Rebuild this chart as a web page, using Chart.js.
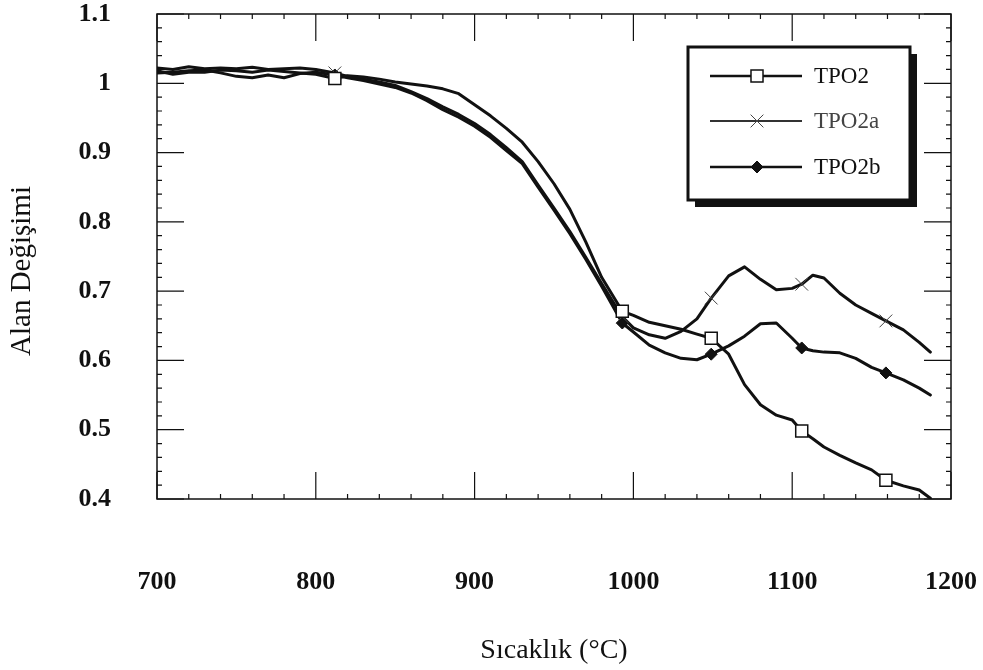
<!DOCTYPE html>
<html>
<head>
<meta charset="utf-8">
<script src="https://cdn.jsdelivr.net/npm/chart.js@4.4.0/dist/chart.umd.min.js"></script>
<style>
    html, body { margin: 0; padding: 0; background: #fff; }
</style>
</head>
<body>
<canvas id="chart-lines" width="983" height="670"></canvas>
<script>
// temperatures (°C) shared by the three curves
var temps = [700, 710, 720, 730, 740, 750, 760, 770, 780, 790, 800, 812, 820, 830, 840, 850,
    860, 870, 880, 890, 900, 910, 920, 930, 940, 950, 960, 970, 980, 993, 1000, 1010, 1020,
    1030, 1040, 1049, 1060, 1070, 1080, 1090, 1100, 1106, 1113, 1120, 1130, 1140, 1150, 1159,
    1170, 1180, 1187];

var tpo2 = [1.018, 1.013, 1.016, 1.016, 1.019, 1.018, 1.016, 1.019, 1.017, 1.015, 1.013, 1.007,
    1.011, 1.009, 1.006, 1.002, 0.999, 0.996, 0.992, 0.985, 0.969, 0.953, 0.935, 0.915, 0.887,
    0.855, 0.818, 0.771, 0.720, 0.671, 0.665, 0.655, 0.650, 0.645, 0.638, 0.632, 0.609, 0.565,
    0.536, 0.521, 0.514, 0.498, 0.487, 0.475, 0.463, 0.452, 0.442, 0.427, 0.419, 0.413, 0.401];

var tpo2a = [1.022, 1.020, 1.024, 1.021, 1.022, 1.021, 1.023, 1.020, 1.021, 1.022, 1.020, 1.015,
    1.010, 1.006, 1.002, 0.997, 0.988, 0.978, 0.966, 0.955, 0.942, 0.926, 0.907, 0.887, 0.853,
    0.820, 0.786, 0.749, 0.711, 0.663, 0.647, 0.637, 0.632, 0.642, 0.660, 0.690, 0.722, 0.735,
    0.717, 0.702, 0.704, 0.710, 0.723, 0.719, 0.697, 0.680, 0.668, 0.657, 0.644, 0.626, 0.612];

var tpo2b = [1.015, 1.016, 1.018, 1.019, 1.015, 1.010, 1.008, 1.012, 1.008, 1.014, 1.016, 1.012,
    1.008, 1.004, 0.999, 0.994, 0.986, 0.975, 0.962, 0.951, 0.938, 0.922, 0.903, 0.884, 0.850,
    0.817, 0.783, 0.746, 0.707, 0.654, 0.641, 0.622, 0.611, 0.603, 0.601, 0.609, 0.621, 0.635,
    0.653, 0.654, 0.632, 0.618, 0.614, 0.612, 0.611, 0.603, 0.590, 0.582, 0.572, 0.560, 0.550];

// temperatures where the symbols sit
var markerTemps = [812, 993, 1049, 1106, 1159];

var seriesNames = ['TPO2', 'TPO2a', 'TPO2b'];
var xTickValues = [700, 800, 900, 1000, 1100, 1200];
var xTickLabels = ['700', '800', '900', '1000', '1100', '1200'];
var yTickValues = [0.4, 0.5, 0.6, 0.7, 0.8, 0.9, 1.0, 1.1];
var yTickLabels = ['0.4', '0.5', '0.6', '0.7', '0.8', '0.9', '1', '1.1'];

var serif = '"Liberation Serif", "Times New Roman", serif';
var ink = '#111';

function points(values) {
    var out = [];
    for (var i in temps) {
        out.push({ x: temps[i], y: values[i] });
    }
    return out;
}

function markerSize(r) {
    return function (ctx) {
        return markerTemps.indexOf(temps[ctx.dataIndex]) >= 0 ? r : 0;
    };
}

// keep the plot box where the reference has it: no extra label padding
function fixBox(size) {
    return function (scale) {
        if (scale.isHorizontal()) scale.height = size; else scale.width = size;
        scale.paddingTop = 0;
        scale.paddingBottom = 0;
        scale.paddingLeft = 0;
        scale.paddingRight = 0;
    };
}

var datasets = [
    {
        label: seriesNames[0],
        data: points(tpo2),
        borderColor: ink,
        borderWidth: 3,
        pointStyle: 'rect',
        pointRadius: markerSize(8.5),
        pointBackgroundColor: '#fff',
        pointBorderColor: ink,
        pointBorderWidth: 1.5,
        legendLine: 2.5
    },
    {
        label: seriesNames[1],
        data: points(tpo2a),
        borderColor: ink,
        borderWidth: 3,
        pointStyle: 'crossRot',
        pointRadius: markerSize(9),
        pointBackgroundColor: ink,
        pointBorderColor: '#444',
        pointBorderWidth: 1,
        legendLine: 1.8
    },
    {
        label: seriesNames[2],
        data: points(tpo2b),
        borderColor: ink,
        borderWidth: 3,
        pointStyle: 'rectRot',
        pointRadius: markerSize(6),
        pointBackgroundColor: ink,
        pointBorderColor: ink,
        pointBorderWidth: 1,
        legendLine: 2.5
    }
];

// frame with inward major/minor ticks on all four sides, y title and boxed legend
var frameTicks = {
    id: 'frameTicks',
    afterDatasetsDraw: function (chart) {
        var ctx = chart.ctx, a = chart.chartArea;
        var xs = chart.scales.x, ys = chart.scales.y;
        ctx.save();
        ctx.strokeStyle = ink;
        ctx.lineWidth = 1.5;
        ctx.strokeRect(a.left, a.top, a.right - a.left, a.bottom - a.top);
        ctx.lineWidth = 1.2;
        ctx.beginPath();
        for (var t = 700; t <= 1200; t += 20) {
            var px = xs.getPixelForValue(t);
            var len = (t % 100 === 0) ? 27 : 5;
            ctx.moveTo(px, a.bottom); ctx.lineTo(px, a.bottom - len);
            ctx.moveTo(px, a.top); ctx.lineTo(px, a.top + len);
        }
        for (var k = 0; k <= 35; k++) {
            var v = 0.4 + k * 0.02;
            var py = ys.getPixelForValue(v);
            var l2 = (k % 5 === 0) ? 27 : 5;
            ctx.moveTo(a.left, py); ctx.lineTo(a.left + l2, py);
            ctx.moveTo(a.right, py); ctx.lineTo(a.right - l2, py);
        }
        ctx.stroke();
        ctx.restore();
    },
    afterDraw: function (chart) {
        var ctx = chart.ctx;
        ctx.save();
        ctx.translate(22, 271);
        ctx.rotate(-Math.PI / 2);
        ctx.fillStyle = ink;
        ctx.font = '29px ' + serif;
        ctx.textAlign = 'center';
        ctx.textBaseline = 'middle';
        ctx.fillText('Alan Değişimi', 0, 0);
        ctx.restore();

        var bx = 688, by = 47, bw = 222, bh = 153;
        ctx.save();
        ctx.fillStyle = ink;
        ctx.fillRect(bx + 7, by + 7, bw, bh);
        ctx.fillStyle = '#fff';
        ctx.fillRect(bx, by, bw, bh);
        ctx.strokeStyle = ink;
        ctx.lineWidth = 3;
        ctx.strokeRect(bx, by, bw, bh);
        var rows = [76, 121, 167];
        chart.data.datasets.forEach(function (ds, i) {
            var y = rows[i];
            ctx.strokeStyle = i === 1 ? '#333' : ink;
            ctx.lineWidth = ds.legendLine;
            ctx.beginPath();
            ctx.moveTo(710, y); ctx.lineTo(802, y);
            ctx.stroke();
            ctx.fillStyle = ds.pointBackgroundColor;
            ctx.strokeStyle = ds.pointBorderColor;
            ctx.lineWidth = ds.pointBorderWidth;
            var r = ds.pointRadius({ dataIndex: temps.indexOf(markerTemps[0]) });
            Chart.helpers.drawPoint(ctx, { pointStyle: ds.pointStyle, radius: r, rotation: 0, borderWidth: ds.pointBorderWidth }, 757, y);
            ctx.fillStyle = i === 1 ? '#444' : ink;
            ctx.font = '23px ' + serif;
            ctx.textAlign = 'left';
            ctx.textBaseline = 'middle';
            ctx.fillText(ds.label, 814, y + 1);
        });
        ctx.restore();
    }
};

var ctx = document.getElementById('chart-lines');

var lineChart = new Chart(ctx, {
    type: 'line',
    data: { datasets: datasets },
    options: {
        responsive: false,
        animation: false,
        devicePixelRatio: 1,
        layout: { padding: { top: 14, right: 32, left: 0, bottom: 0 } },
        elements: { line: { tension: 0, borderJoinStyle: 'round', borderCapStyle: 'round' } },
        plugins: { legend: { display: false }, tooltip: { enabled: false } },
        scales: {
            x: {
                type: 'linear',
                min: 700,
                max: 1200,
                afterFit: fixBox(171),
                afterBuildTicks: function (scale) {
                    scale.ticks = xTickValues.map(function (v) { return { value: v }; });
                },
                grid: { display: false, drawTicks: false },
                border: { display: false },
                ticks: {
                    padding: 70,
                    color: ink,
                    font: { family: serif, size: 26, weight: 'bold', lineHeight: 1 },
                    callback: function (v) { return xTickLabels[xTickValues.indexOf(v)]; }
                },
                title: {
                    display: true,
                    text: 'Sıcaklık (°C)',
                    color: ink,
                    font: { family: serif, size: 28 },
                    padding: { top: 0, bottom: 3 }
                }
            },
            y: {
                type: 'linear',
                min: 0.4,
                max: 1.1,
                afterFit: fixBox(157),
                afterBuildTicks: function (scale) {
                    scale.ticks = yTickValues.map(function (v) { return { value: v }; });
                },
                grid: { display: false, drawTicks: false },
                border: { display: false },
                ticks: {
                    padding: 46,
                    color: ink,
                    font: { family: serif, size: 26, weight: 'bold', lineHeight: 1 },
                    callback: function (v) {
                        for (var i in yTickValues) {
                            if (Math.abs(yTickValues[i] - v) < 1e-6) return yTickLabels[i];
                        }
                        return '';
                    }
                }
            }
        }
    },
    plugins: [frameTicks]
});
</script>
</body>
</html>
